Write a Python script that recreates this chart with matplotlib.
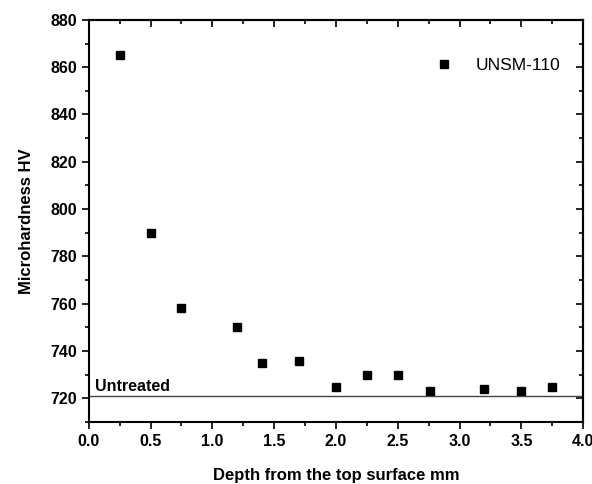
import matplotlib
matplotlib.use("Agg")
import matplotlib.pyplot as plt
from matplotlib.ticker import MultipleLocator

plt.rcParams['font.family'] = ['Liberation Sans', 'DejaVu Sans']

# measured microhardness profile
depth = [0.25, 0.5, 0.75, 1.2, 1.4, 1.7, 2.0, 2.25, 2.5, 2.76, 3.2, 3.5, 3.75]
hardness = [865, 790, 758, 750, 735, 736, 725, 730, 730, 723, 724, 723, 725]
untreated_hv = 721

fig = plt.figure(figsize=(5.92, 4.84), dpi=100)
ax = fig.add_axes([0.150, 0.128, 0.835, 0.831])

ax.plot(depth, hardness, 's', color='black', markersize=6, label='UNSM-110')
ax.axhline(untreated_hv, color='#444444', linewidth=1.0)
ax.text(0.05, untreated_hv + 2, 'Untreated', fontsize=11.5, fontweight='bold')

ax.set_xlim(0, 4.0)
ax.set_ylim(710, 880)
ax.xaxis.set_major_locator(MultipleLocator(0.5))
ax.xaxis.set_minor_locator(MultipleLocator(0.25))
ax.yaxis.set_major_locator(MultipleLocator(20))
ax.yaxis.set_minor_locator(MultipleLocator(10))

ax.tick_params(which='both', direction='out', top=False, right=False, width=1.2)
ax.tick_params(which='major', length=5, labelsize=11.5)
ax.tick_params(which='minor', length=3)
for lbl in ax.get_xticklabels() + ax.get_yticklabels():
    lbl.set_fontweight('bold')

# mirrored ticks on top and right, pointing inward
sec_x = ax.secondary_xaxis('top')
sec_x.xaxis.set_major_locator(MultipleLocator(0.5))
sec_x.xaxis.set_minor_locator(MultipleLocator(0.25))
sec_x.tick_params(which='both', direction='in', labeltop=False, width=1.2)
sec_x.tick_params(which='major', length=5)
sec_x.tick_params(which='minor', length=3)
sec_y = ax.secondary_yaxis('right')
sec_y.yaxis.set_major_locator(MultipleLocator(20))
sec_y.yaxis.set_minor_locator(MultipleLocator(10))
sec_y.tick_params(which='both', direction='in', labelright=False, width=1.2)
sec_y.tick_params(which='major', length=5)
sec_y.tick_params(which='minor', length=3)

for s in ax.spines.values():
    s.set_linewidth(1.5)
sec_x.spines['top'].set_linewidth(1.5)
sec_y.spines['right'].set_linewidth(1.5)

ax.set_xlabel('Depth from the top surface mm', fontsize=12, fontweight='bold', labelpad=14)
ax.set_ylabel('Microhardness HV', fontsize=12, fontweight='bold', labelpad=12)

ax.legend(loc='center right', frameon=False, fontsize=12.5, handletextpad=0.8,
          bbox_to_anchor=(0.985, 0.886), markerscale=1.0)

fig.savefig('out.png', dpi=100)
